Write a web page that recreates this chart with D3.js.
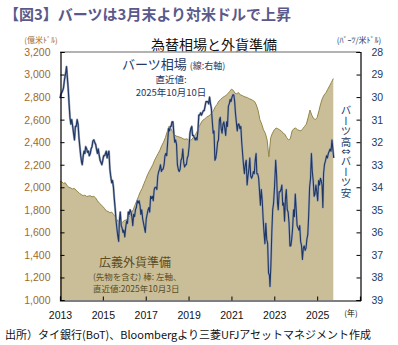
<!DOCTYPE html>
<html>
<head>
<meta charset="utf-8">
<script src="https://cdn.jsdelivr.net/npm/d3@7"></script>
<style>
  html, body { margin: 0; padding: 0; background: #fff; }
  svg { display: block; }
  text { font-family: "Noto Sans CJK JP", "Noto Sans", sans-serif; }
  .num { font-family: "Liberation Sans", Arial, sans-serif; }
</style>
</head>
<body>
<script>
(function(d3) {
  var W = 398, H = 345;
  var LEFT = 60, RIGHT = 360, TOP = 52, BOTTOM = 300;

  // broad FX reserves incl. forwards (100m USD), monthly, by year
  var reserveYears = [2013, 2014, 2015, 2016, 2017, 2018, 2019, 2020, 2021, 2022, 2023, 2024, 2025];
  var reserveByMonth = [
    [2055, 2048, 2035, 2040, 2015, 2000, 1995, 1985, 1990, 1975, 1960, 1945],
    [1935, 1925, 1930, 1918, 1922, 1925, 1915, 1920, 1905, 1880, 1860, 1845],
    [1830, 1810, 1790, 1785, 1775, 1780, 1760, 1740, 1710, 1690, 1700, 1690],
    [1705, 1710, 1725, 1745, 1770, 1800, 1840, 1880, 1920, 1960, 1990, 2030],
    [2070, 2110, 2140, 2170, 2200, 2240, 2270, 2300, 2330, 2370, 2400, 2440],
    [2490, 2540, 2525, 2495, 2470, 2455, 2450, 2445, 2440, 2430, 2425, 2430],
    [2420, 2415, 2425, 2450, 2470, 2500, 2540, 2570, 2595, 2605, 2620, 2630],
    [2640, 2660, 2680, 2715, 2735, 2765, 2780, 2795, 2805, 2815, 2830, 2850],
    [2870, 2860, 2835, 2830, 2840, 2820, 2815, 2805, 2800, 2795, 2785, 2780],
    [2770, 2760, 2730, 2680, 2600, 2560, 2510, 2480, 2420, 2270, 2440, 2480],
    [2510, 2525, 2520, 2510, 2500, 2480, 2470, 2440, 2420, 2430, 2500, 2520],
    [2525, 2510, 2505, 2500, 2520, 2540, 2560, 2620, 2685, 2640, 2610, 2600],
    [2620, 2680, 2740, 2790, 2820, 2840, 2870, 2900, 2930, 2965]
  ];
  var reserveLastDate = "2025-10-03";

  // baht per US dollar
  var thbSeries = [
    ["2013-01-01", 30.05], ["2013-01-20", 29.85], ["2013-02-10", 29.75], ["2013-03-01", 29.6],
    ["2013-03-20", 29.2], ["2013-04-10", 28.9], ["2013-04-22", 28.65], ["2013-05-05", 29.1],
    ["2013-05-20", 29.6], ["2013-06-05", 30.3], ["2013-06-20", 30.9], ["2013-07-05", 31.2],
    ["2013-07-20", 31.0], ["2013-08-05", 31.3], ["2013-08-20", 31.6], ["2013-09-05", 31.9],
    ["2013-09-20", 31.3], ["2013-10-05", 31.3], ["2013-10-20", 31.0], ["2013-11-05", 31.2],
    ["2013-11-20", 31.8], ["2013-12-05", 32.2], ["2013-12-20", 32.6], ["2014-01-05", 32.9],
    ["2014-01-15", 33.0], ["2014-02-01", 32.6], ["2014-02-15", 32.4], ["2014-03-01", 32.5],
    ["2014-03-15", 32.2], ["2014-04-01", 32.3], ["2014-04-15", 32.45], ["2014-05-01", 32.4],
    ["2014-05-15", 32.6], ["2014-06-01", 32.5], ["2014-06-15", 32.3], ["2014-07-01", 32.2],
    ["2014-07-15", 31.95], ["2014-08-01", 31.9], ["2014-08-15", 32.0], ["2014-09-01", 32.1],
    ["2014-09-15", 32.3], ["2014-10-01", 32.5], ["2014-10-15", 32.3], ["2014-11-01", 32.6],
    ["2014-11-15", 32.8], ["2014-12-01", 32.9], ["2014-12-15", 33.0], ["2015-01-01", 32.8],
    ["2015-01-15", 32.6], ["2015-02-01", 32.6], ["2015-02-15", 32.5], ["2015-03-01", 32.4],
    ["2015-03-15", 32.7], ["2015-04-01", 32.5], ["2015-04-15", 32.4], ["2015-05-01", 33.2],
    ["2015-05-15", 33.5], ["2015-06-01", 33.8], ["2015-06-15", 33.7], ["2015-07-01", 34.0],
    ["2015-07-15", 34.5], ["2015-08-01", 35.0], ["2015-08-15", 35.5], ["2015-09-01", 35.9],
    ["2015-09-15", 36.2], ["2015-09-28", 36.4], ["2015-10-10", 35.5], ["2015-10-25", 35.1],
    ["2015-11-10", 35.7], ["2015-11-25", 35.8], ["2015-12-10", 36.0], ["2015-12-25", 35.9],
    ["2016-01-10", 36.2], ["2016-01-25", 35.8], ["2016-02-10", 35.5], ["2016-02-25", 35.6],
    ["2016-03-10", 35.1], ["2016-03-25", 35.2], ["2016-04-10", 35.0], ["2016-04-25", 35.1],
    ["2016-05-10", 35.3], ["2016-05-25", 35.7], ["2016-06-10", 35.2], ["2016-06-25", 35.3],
    ["2016-07-10", 35.0], ["2016-07-25", 34.9], ["2016-08-10", 34.6], ["2016-08-25", 34.7],
    ["2016-09-10", 34.6], ["2016-09-25", 34.8], ["2016-10-10", 35.2], ["2016-10-25", 35.0],
    ["2016-11-10", 35.4], ["2016-11-25", 35.6], ["2016-12-10", 35.8], ["2016-12-25", 36.0],
    ["2017-01-10", 35.4], ["2017-01-25", 35.2], ["2017-02-10", 35.0], ["2017-02-25", 34.9],
    ["2017-03-10", 35.1], ["2017-03-25", 34.4], ["2017-04-10", 34.5], ["2017-04-25", 34.4],
    ["2017-05-10", 34.6], ["2017-05-25", 34.1], ["2017-06-10", 34.0], ["2017-06-25", 34.0],
    ["2017-07-10", 34.1], ["2017-07-25", 33.5], ["2017-08-10", 33.3], ["2017-08-25", 33.2],
    ["2017-09-10", 33.0], ["2017-09-25", 33.3], ["2017-10-10", 33.2], ["2017-10-25", 33.2],
    ["2017-11-10", 33.0], ["2017-11-25", 32.6], ["2017-12-10", 32.5], ["2017-12-25", 32.6],
    ["2018-01-10", 32.0], ["2018-01-25", 31.4], ["2018-02-10", 31.5], ["2018-02-25", 31.3],
    ["2018-03-10", 31.3], ["2018-03-25", 31.1], ["2018-04-10", 31.1], ["2018-04-25", 31.6],
    ["2018-05-10", 32.0], ["2018-05-25", 31.9], ["2018-06-10", 32.1], ["2018-06-25", 33.0],
    ["2018-07-10", 33.2], ["2018-07-25", 33.3], ["2018-08-10", 33.2], ["2018-08-25", 32.8],
    ["2018-09-10", 32.7], ["2018-09-25", 32.3], ["2018-10-10", 32.9], ["2018-10-25", 33.1],
    ["2018-11-10", 33.0], ["2018-11-25", 33.0], ["2018-12-10", 32.7], ["2018-12-25", 32.6],
    ["2019-01-10", 32.2], ["2019-01-25", 31.6], ["2019-02-10", 31.4], ["2019-02-25", 31.3],
    ["2019-03-10", 31.7], ["2019-03-25", 31.7], ["2019-04-10", 31.8], ["2019-04-25", 31.9],
    ["2019-05-10", 31.8], ["2019-05-25", 31.9], ["2019-06-10", 31.5], ["2019-06-25", 30.8],
    ["2019-07-10", 30.8], ["2019-07-25", 30.7], ["2019-08-10", 30.8], ["2019-08-25", 30.7],
    ["2019-09-10", 30.6], ["2019-09-25", 30.6], ["2019-10-10", 30.4], ["2019-10-25", 30.2],
    ["2019-11-10", 30.2], ["2019-11-25", 30.2], ["2019-12-10", 30.3], ["2019-12-25", 30.0],
    ["2020-01-10", 30.3], ["2020-01-25", 30.5], ["2020-02-10", 31.1], ["2020-02-25", 31.6],
    ["2020-03-10", 31.5], ["2020-03-25", 32.8], ["2020-04-10", 32.7], ["2020-04-25", 32.4],
    ["2020-05-10", 32.0], ["2020-05-25", 31.9], ["2020-06-10", 31.0], ["2020-06-25", 30.9],
    ["2020-07-10", 31.4], ["2020-07-25", 31.6], ["2020-08-10", 31.2], ["2020-08-25", 31.1],
    ["2020-09-10", 31.4], ["2020-09-25", 31.7], ["2020-10-10", 31.1], ["2020-10-25", 31.3],
    ["2020-11-10", 30.4], ["2020-11-25", 30.3], ["2020-12-10", 30.1], ["2020-12-25", 30.2],
    ["2021-01-10", 30.0], ["2021-01-25", 29.9], ["2021-02-10", 29.9], ["2021-02-25", 30.2],
    ["2021-03-10", 30.7], ["2021-03-25", 31.1], ["2021-04-10", 31.5], ["2021-04-25", 31.2],
    ["2021-05-10", 31.2], ["2021-05-25", 31.4], ["2021-06-10", 31.3], ["2021-06-25", 32.0],
    ["2021-07-10", 32.5], ["2021-07-25", 33.0], ["2021-08-10", 33.4], ["2021-08-25", 33.0],
    ["2021-09-10", 32.8], ["2021-09-25", 33.9], ["2021-10-10", 33.5], ["2021-10-25", 33.2],
    ["2021-11-10", 32.7], ["2021-11-25", 33.5], ["2021-12-10", 33.6], ["2021-12-25", 33.5],
    ["2022-01-10", 33.3], ["2022-01-25", 33.4], ["2022-02-10", 32.8], ["2022-02-25", 32.5],
    ["2022-03-10", 33.4], ["2022-03-25", 33.4], ["2022-04-10", 33.6], ["2022-04-25", 34.2],
    ["2022-05-10", 34.8], ["2022-05-25", 34.1], ["2022-06-10", 34.6], ["2022-06-25", 35.4],
    ["2022-07-10", 36.0], ["2022-07-25", 36.5], ["2022-08-10", 35.6], ["2022-08-25", 36.3],
    ["2022-09-10", 36.5], ["2022-09-25", 37.8], ["2022-10-10", 37.9], ["2022-10-20", 38.4],
    ["2022-11-05", 37.4], ["2022-11-20", 36.0], ["2022-12-05", 35.0], ["2022-12-20", 34.7],
    ["2023-01-05", 34.0], ["2023-01-25", 32.8], ["2023-02-10", 33.5], ["2023-02-25", 34.7],
    ["2023-03-10", 35.0], ["2023-03-25", 34.2], ["2023-04-10", 34.2], ["2023-04-25", 34.1],
    ["2023-05-10", 33.9], ["2023-05-25", 34.8], ["2023-06-10", 34.7], ["2023-06-25", 35.5],
    ["2023-07-10", 34.5], ["2023-07-25", 34.1], ["2023-08-10", 35.0], ["2023-08-25", 35.1],
    ["2023-09-10", 35.6], ["2023-09-25", 36.6], ["2023-10-10", 36.6], ["2023-10-25", 36.3],
    ["2023-11-10", 35.8], ["2023-11-25", 35.0], ["2023-12-10", 35.3], ["2023-12-25", 34.3],
    ["2024-01-10", 35.0], ["2024-01-25", 35.7], ["2024-02-10", 35.8], ["2024-02-25", 35.9],
    ["2024-03-10", 35.7], ["2024-03-25", 36.4], ["2024-04-10", 36.6], ["2024-04-25", 37.2],
    ["2024-05-10", 36.7], ["2024-05-25", 36.6], ["2024-06-10", 36.8], ["2024-06-25", 36.7],
    ["2024-07-10", 36.3], ["2024-07-25", 36.1], ["2024-08-10", 35.2], ["2024-08-25", 34.0],
    ["2024-09-10", 33.6], ["2024-09-25", 32.5], ["2024-10-10", 33.3], ["2024-10-25", 33.7],
    ["2024-11-10", 34.4], ["2024-11-25", 34.3], ["2024-12-10", 33.9], ["2024-12-25", 34.2],
    ["2025-01-10", 34.6], ["2025-01-25", 33.7], ["2025-02-10", 33.9], ["2025-02-25", 33.6],
    ["2025-03-10", 33.7], ["2025-03-25", 33.9], ["2025-04-08", 34.9], ["2025-04-20", 33.4],
    ["2025-05-05", 33.0], ["2025-05-25", 32.8], ["2025-06-10", 32.6], ["2025-06-25", 32.7],
    ["2025-07-10", 32.5], ["2025-07-25", 32.4], ["2025-08-10", 32.3], ["2025-08-25", 32.4],
    ["2025-09-10", 31.9], ["2025-09-25", 32.3], ["2025-10-10", 32.7]
  ];

  var leftTicks = [1000, 1200, 1400, 1600, 1800, 2000, 2200, 2400, 2600, 2800, 3000, 3200];
  var rightTicks = [28, 29, 30, 31, 32, 33, 34, 35, 36, 37, 38, 39];
  var yearTicks = [2013, 2015, 2017, 2019, 2021, 2023, 2025];

  var parseDay = d3.timeParse("%Y-%m-%d");

  var reserves = [];
  reserveYears.forEach(function(yr, i) {
    reserveByMonth[i].forEach(function(v, m) {
      reserves.push({date: new Date(yr, m, 1), value: v});
    });
  });
  reserves[reserves.length - 1].date = parseDay(reserveLastDate);

  var thb = thbSeries.map(function(d) { return {date: parseDay(d[0]), value: d[1]}; });

  var x = d3.scaleTime()
    .domain([new Date(2013, 0, 1), new Date(2027, 0, 1)])
    .range([LEFT, RIGHT]);
  var yL = d3.scaleLinear().domain([1000, 3200]).range([BOTTOM, TOP]);
  var yR = d3.scaleLinear().domain([28, 39]).range([TOP, BOTTOM]);

  var svg = d3.select("body").append("svg")
    .attr("width", W)
    .attr("height", H);

  // titles
  svg.append("text")
    .attr("x", 4).attr("y", 20)
    .attr("font-size", 15).attr("font-weight", "bold")
    .attr("fill", "#5a5989")
    .text("【図3】バーツは3月末より対米ドルで上昇");

  svg.append("text")
    .attr("x", 214).attr("y", 50)
    .attr("text-anchor", "middle")
    .attr("font-size", 14).attr("fill", "#111")
    .text("為替相場と外貨準備");

  svg.append("text")
    .attr("x", 41).attr("y", 43)
    .attr("text-anchor", "middle")
    .attr("font-size", 8).attr("fill", "#a06a2a")
    .text("(億米ﾄﾞﾙ)");

  svg.append("text")
    .attr("x", 359).attr("y", 43)
    .attr("text-anchor", "middle")
    .attr("font-size", 8).attr("fill", "#243a66")
    .text("(ﾊﾞｰﾂ/米ﾄﾞﾙ)");

  // reserves area
  var area = d3.area()
    .x(function(d) { return x(d.date); })
    .y0(yL(1000))
    .y1(function(d) { return yL(d.value); });

  svg.append("path")
    .datum(reserves)
    .attr("d", area)
    .attr("fill", "#c9be98");

  svg.append("path")
    .datum(reserves)
    .attr("d", d3.line()
      .x(function(d) { return x(d.date); })
      .y(function(d) { return yL(d.value); }))
    .attr("fill", "none")
    .attr("stroke", "#938649")
    .attr("stroke-width", 1);

  // baht line, with a light edge like the original
  var thbLine = d3.line()
    .x(function(d) { return x(d.date); })
    .y(function(d) { return yR(d.value); });

  svg.append("path")
    .datum(thb)
    .attr("d", thbLine)
    .attr("fill", "none")
    .attr("stroke", "#9ba4b8")
    .attr("stroke-width", 2.2)
    .attr("stroke-linejoin", "round");

  svg.append("path")
    .datum(thb)
    .attr("d", thbLine)
    .attr("fill", "none")
    .attr("stroke", "#1f3662")
    .attr("stroke-width", 1.1)
    .attr("stroke-linejoin", "round");

  // frame
  svg.append("line")
    .attr("x1", LEFT).attr("x2", RIGHT)
    .attr("y1", TOP).attr("y2", TOP)
    .attr("stroke", "#9a9a9a").attr("stroke-width", 1.5);

  var fmt = d3.format(",");

  var leftAxis = svg.append("g")
    .attr("transform", "translate(" + (LEFT + 0.5) + ",0)")
    .call(d3.axisLeft(yL).tickValues(leftTicks).tickSize(-4).tickPadding(10).tickFormat(fmt));
  leftAxis.selectAll("text").attr("class", "num").attr("font-size", 10.5).attr("fill", "#a06a2a");

  var rightAxis = svg.append("g")
    .attr("transform", "translate(" + (RIGHT + 0.5) + ",0)")
    .call(d3.axisRight(yR).tickValues(rightTicks).tickSize(-4).tickPadding(11));
  rightAxis.selectAll("text").attr("class", "num").attr("font-size", 10.5).attr("fill", "#243a66");

  var bottomAxis = svg.append("g")
    .attr("transform", "translate(0," + (BOTTOM + 0.5) + ")")
    .call(d3.axisBottom(x)
      .tickValues(yearTicks.map(function(yr) { return new Date(yr, 0, 1); }))
      .tickSize(-4).tickPadding(11)
      .tickFormat(d3.timeFormat("%Y")));
  bottomAxis.selectAll("text").attr("class", "num").attr("font-size", 10.5).attr("fill", "#111");

  [leftAxis, rightAxis, bottomAxis].forEach(function(g) {
    g.select(".domain").attr("stroke", "#000").attr("stroke-width", 1.2);
    g.selectAll(".tick line").attr("stroke", "#000");
  });

  svg.append("text")
    .attr("x", 351).attr("y", 316)
    .attr("text-anchor", "middle")
    .attr("font-size", 8).attr("fill", "#111")
    .text("(年)");

  // annotations: baht
  var navy = "#243a66";
  var fxLabel = svg.append("text").attr("x", 122).attr("y", 69).attr("fill", navy);
  fxLabel.append("tspan").attr("font-size", 13).text("バーツ相場 ");
  fxLabel.append("tspan").attr("font-size", 9).text("(線:右軸)");

  svg.append("text")
    .attr("x", 171).attr("y", 83)
    .attr("text-anchor", "middle")
    .attr("font-size", 9.5).attr("fill", navy)
    .text("直近値:");

  svg.append("text")
    .attr("x", 171).attr("y", 95.5)
    .attr("text-anchor", "middle")
    .attr("font-size", 9.5).attr("fill", navy)
    .text("2025年10月10日");

  svg.append("text")
    .attr("x", 346).attr("y", 105)
    .attr("font-size", 10.5).attr("fill", navy)
    .style("writing-mode", "vertical-rl")
    .text("バーツ高⇕バーツ安");

  // annotations: reserves
  var olive = "#5a4c22";
  svg.append("text")
    .attr("x", 99).attr("y", 267)
    .attr("font-size", 12).attr("fill", olive)
    .text("広義外貨準備");

  svg.append("text")
    .attr("x", 93).attr("y", 280)
    .attr("font-size", 8.5).attr("fill", olive)
    .text("(先物を含む) 棒: 左軸、");

  svg.append("text")
    .attr("x", 93).attr("y", 291.5)
    .attr("font-size", 8.5).attr("fill", olive)
    .text("直近値:2025年10月3日");

  // source
  svg.append("text")
    .attr("x", 5).attr("y", 339)
    .attr("font-size", 11).attr("fill", "#111")
    .text("出所）タイ銀行(BoT)、Bloombergより三菱UFJアセットマネジメント作成");

}).call(this, d3);
</script>
</body>
</html>
